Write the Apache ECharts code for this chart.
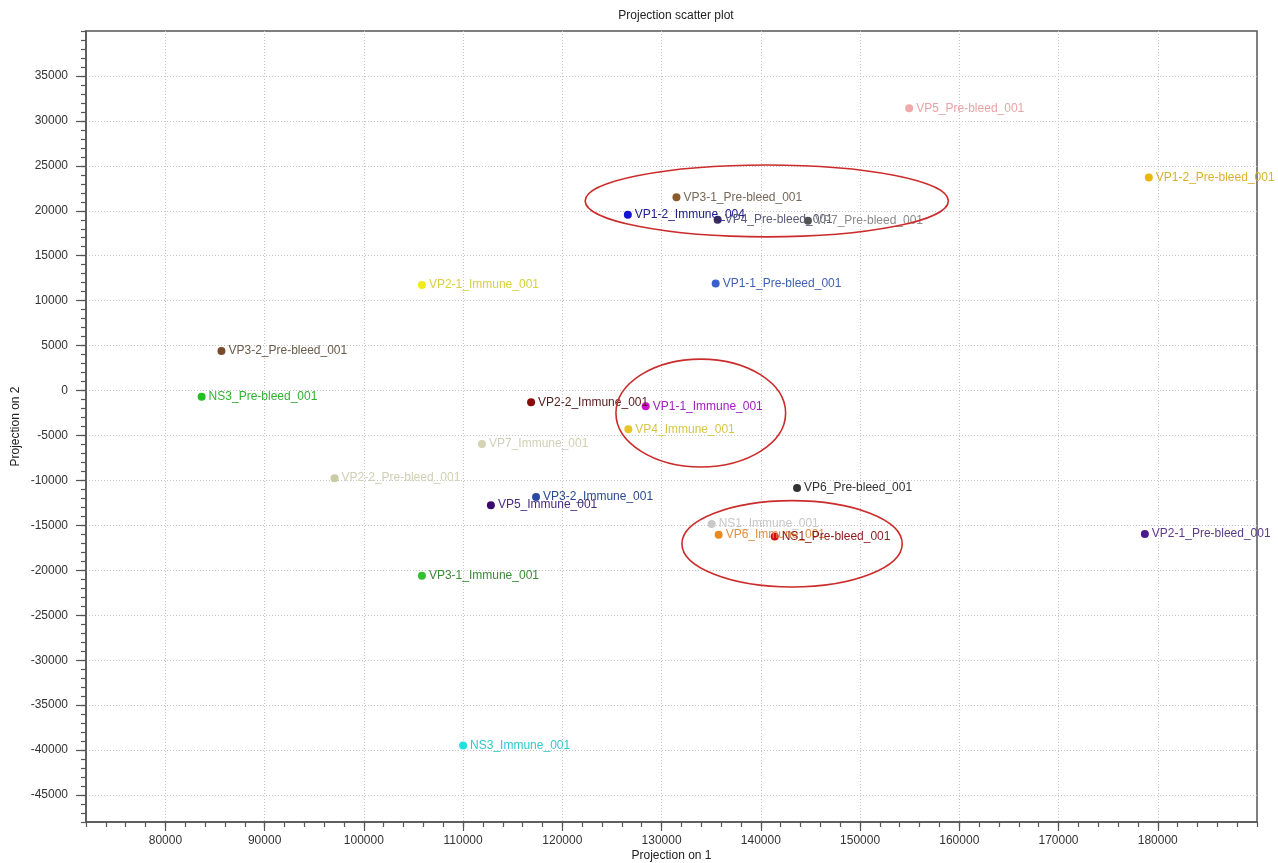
<!DOCTYPE html>
<html>
<head>
<meta charset="utf-8">
<script src="https://cdn.jsdelivr.net/npm/echarts@6/dist/echarts.min.js"></script>
<style>
  html, body { margin: 0; padding: 0; background: #ffffff; }
  #chart { width: 1278px; height: 863px; }
</style>
</head>
<body>
<div id="chart"></div>
<script>
// Sample names and their coordinates on the first two projection components
const sampleNames = [
  'VP5_Pre-bleed_001', 'VP1-2_Pre-bleed_001', 'VP3-1_Pre-bleed_001', 'VP1-2_Immune_004',
  'VP4_Pre-bleed_001', 'VP7_Pre-bleed_001', 'VP1-1_Pre-bleed_001', 'VP2-1_Immune_001',
  'VP3-2_Pre-bleed_001', 'NS3_Pre-bleed_001', 'VP2-2_Immune_001', 'VP1-1_Immune_001',
  'VP4_Immune_001', 'VP7_Immune_001', 'VP2-2_Pre-bleed_001', 'VP6_Pre-bleed_001',
  'VP3-2_Immune_001', 'VP5_Immune_001', 'NS1_Immune_001', 'VP6_Immune_001',
  'NS1_Pre-bleed_001', 'VP2-1_Pre-bleed_001', 'VP3-1_Immune_001', 'NS3_Immune_001'
];
const projection1 = [
  154950, 179100, 131500, 126600,
  135650, 144750, 135450, 105850,
  85650, 83650, 116850, 128400,
  126650, 111900, 97050, 143650,
  117350, 112800, 135050, 135750,
  141400, 178700, 105850, 110000
];
const projection2 = [
  31400, 23700, 21500, 19550,
  19000, 18900, 11900, 11750,
  4400, -700, -1300, -1750,
  -4300, -5950, -9750, -10850,
  -11850, -12750, -14850, -16050,
  -16250, -15950, -20600, -39500
];
const markerColors = [
  '#f2a9a9', '#e9b80c', '#8b5a2b', '#1212d2',
  '#3b2b5c', '#555555', '#3a60d0', '#f0ee10',
  '#7a4a2a', '#20c020', '#8b0a0a', '#d010d0',
  '#e8c428', '#d4d4b4', '#cacaa4', '#333333',
  '#2a4aa0', '#3a0a70', '#c8c8c8', '#e88a20',
  '#d01010', '#4a1a8a', '#30c030', '#20e0e0'
];
const labelColors = [
  '#e8a4a4', '#d8b030', '#76685a', '#20208e',
  '#5a5a7a', '#8a8a8a', '#4060b0', '#d8d040',
  '#6a5a4a', '#30b030', '#5a2020', '#a020c0',
  '#d8c448', '#d0d0b8', '#d0d0b4', '#333333',
  '#2a4a90', '#4a2a80', '#c8c8c8', '#e09040',
  '#8a1a1a', '#5a3a8a', '#3a8a3a', '#30c8d0'
];

// Labelled tick values on both axes
const xTickValues = [80000, 90000, 100000, 110000, 120000, 130000, 140000, 150000, 160000, 170000, 180000];
const yTickValues = [-45000, -40000, -35000, -30000, -25000, -20000, -15000, -10000, -5000,
  0, 5000, 10000, 15000, 20000, 25000, 30000, 35000];

// Highlight ellipses around sample groups (centre and half-widths in data units)
const ellipseCx = [140600, 133950, 143150];
const ellipseCy = [21100, -2500, -17050];
const ellipseRx = [18300, 8550, 11100];
const ellipseRy = [4000, 6000, 4800];

const FONT = 'Liberation Sans, Arial, sans-serif';
const AXIS_COLOR = '#555555';

const chart = echarts.init(document.getElementById('chart'), null, { renderer: 'canvas' });

const points = sampleNames.map((name, i) => ({
  name: name,
  value: [projection1[i], projection2[i]],
  itemStyle: { color: markerColors[i], opacity: 1 },
  label: { color: labelColors[i] }
}));

const xRange = { min: 72000, max: 190000 };
const yRange = { min: -48000, max: 40000 };

chart.setOption({
  animation: false,
  backgroundColor: '#ffffff',
  title: {
    text: 'Projection scatter plot',
    left: 671,
    top: 5,
    textAlign: 'center',
    textStyle: { fontSize: 12, fontWeight: 'normal', color: '#222222', fontFamily: FONT }
  },
  grid: {
    left: 86, top: 31, width: 1171, height: 791,
    outerBoundsMode: 'none',
    containLabel: false,
    show: true, borderColor: AXIS_COLOR, borderWidth: 1.5, backgroundColor: '#ffffff'
  },
  xAxis: [
    {
      // minor ticks every 2000
      type: 'value', position: 'bottom', min: xRange.min, max: xRange.max, interval: 2000,
      axisLine: { show: true, onZero: false, lineStyle: { color: AXIS_COLOR, width: 1.5 } },
      axisTick: { show: true, length: 5, lineStyle: { color: AXIS_COLOR, width: 1.2 } },
      axisLabel: { show: false },
      splitLine: { show: false },
      name: 'Projection on 1', nameLocation: 'middle', nameGap: 28,
      nameTextStyle: { fontSize: 12, color: '#222222', fontFamily: FONT }
    },
    {
      // labelled major ticks and grid lines
      type: 'value', position: 'bottom', min: xRange.min, max: xRange.max,
      axisLine: { show: false, onZero: false },
      axisTick: { show: true, length: 9, customValues: xTickValues, lineStyle: { color: AXIS_COLOR, width: 1.2 } },
      axisLabel: {
        show: true, customValues: xTickValues, margin: 13, fontSize: 12, color: '#333333', fontFamily: FONT,
        formatter: (v) => String(v)
      },
      splitLine: { show: true, lineStyle: { type: [1, 2], color: '#c4c4c4', width: 1 } }
    }
  ],
  yAxis: [
    {
      type: 'value', position: 'left', min: yRange.min, max: yRange.max, interval: 1000,
      axisLine: { show: true, onZero: false, lineStyle: { color: AXIS_COLOR, width: 1.5 } },
      axisTick: { show: true, length: 5, lineStyle: { color: AXIS_COLOR, width: 1.2 } },
      axisLabel: { show: false },
      splitLine: { show: false },
      name: 'Projection on 2', nameLocation: 'middle', nameGap: 64, nameRotate: 90,
      nameTextStyle: { fontSize: 12, color: '#222222', fontFamily: FONT }
    },
    {
      type: 'value', position: 'left', min: yRange.min, max: yRange.max,
      axisLine: { show: false, onZero: false },
      axisTick: { show: true, length: 10, customValues: yTickValues, lineStyle: { color: AXIS_COLOR, width: 1.2 } },
      axisLabel: {
        show: true, customValues: yTickValues, margin: 18, fontSize: 12, color: '#333333', fontFamily: FONT,
        formatter: (v) => String(v)
      },
      splitLine: { show: true, lineStyle: { type: [1, 2], color: '#c4c4c4', width: 1 } }
    }
  ],
  series: [
    {
      type: 'scatter',
      xAxisIndex: 0,
      yAxisIndex: 0,
      symbol: 'circle',
      symbolSize: 8,
      data: points,
      label: {
        show: true,
        position: 'right',
        distance: 3,
        formatter: (p) => p.name,
        fontSize: 12,
        fontFamily: FONT
      },
      labelLayout: { hideOverlap: false }
    }
  ]
});

// Red ellipses drawn in data space, converted to pixels through the axes
function drawEllipses() {
  const shapes = ellipseCx.map((cx, i) => {
    const c = chart.convertToPixel({ xAxisIndex: 0, yAxisIndex: 0 }, [cx, ellipseCy[i]]);
    const e = chart.convertToPixel({ xAxisIndex: 0, yAxisIndex: 0 }, [cx + ellipseRx[i], ellipseCy[i] + ellipseRy[i]]);
    return {
      type: 'ellipse',
      silent: true,
      z: 100,
      shape: { cx: c[0], cy: c[1], rx: Math.abs(e[0] - c[0]), ry: Math.abs(c[1] - e[1]) },
      style: { fill: 'none', stroke: '#cc2b2b', lineWidth: 1.6 }
    };
  });
  chart.setOption({ graphic: shapes });
}
drawEllipses();
</script>
</body>
</html>
